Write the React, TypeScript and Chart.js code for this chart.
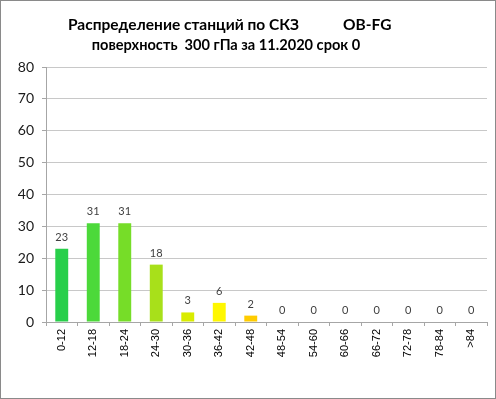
import React, { useEffect, useRef } from "react";
import { Chart, registerables } from "chart.js";

Chart.register(...registerables);

const categories = ["0-12", "12-18", "18-24", "24-30", "30-36", "36-42", "42-48", "48-54", "54-60", "60-66", "66-72", "72-78", "78-84", ">84"];
const stationCounts = [23, 31, 31, 18, 3, 6, 2, 0, 0, 0, 0, 0, 0, 0];
const barColors = ["#28CF4A", "#4CD93A", "#76DD28", "#A8E01A", "#D9EC00", "#FFF700", "#FFCC00", "#FFCC00", "#FFCC00", "#FFCC00", "#FFCC00", "#FFCC00", "#FFCC00", "#FFCC00"];
const yTicksMax = 80;
const yStep = 10;
const titleLine1 = "Распределение станций по СКЗ";
const titleTag = "OB-FG";
const titleLine2 = "поверхность  300 гПа за 11.2020 срок 0";

const valueLabels = {
  id: "valueLabels",
  afterDatasetsDraw(chart: any) {
    const ctx = chart.ctx;
    const meta = chart.getDatasetMeta(0);
    ctx.save();
    ctx.font = "11px Lato";
    ctx.fillStyle = "#404040";
    ctx.textAlign = "center";
    ctx.textBaseline = "alphabetic";
    meta.data.forEach((el: any, i: number) => {
      ctx.fillText(String(stationCounts[i]), el.x, el.y - 8);
    });
    ctx.restore();
  },
};

const titleDraw = {
  id: "titleDraw",
  afterDraw(chart: any) {
    const ctx = chart.ctx;
    ctx.save();
    ctx.font = "bold 15.5px Lato";
    ctx.fillStyle = "#000";
    ctx.textBaseline = "alphabetic";
    ctx.textAlign = "left";
    ctx.fillText(titleLine1, 67, 29);
    ctx.fillText(titleTag, 342, 29);
    ctx.font = "bold 14.6px Lato";
    ctx.textAlign = "center";
    ctx.fillText(titleLine2, 225, 49);
    ctx.restore();
  },
};

export default function App() {
  const ref = useRef<HTMLCanvasElement>(null);
  useEffect(() => {
    document.body.style.margin = "0";
    const chart = new Chart(ref.current!, {
      type: "bar",
      data: {
        labels: categories,
        datasets: [
          {
            data: stationCounts,
            backgroundColor: barColors,
            barPercentage: 0.41,
            categoryPercentage: 1,
          },
        ],
      },
      options: {
        animation: false,
        responsive: false,
        maintainAspectRatio: false,
        layout: { padding: { top: 66, left: 0, right: 8, bottom: 0 } },
        plugins: { legend: { display: false }, title: { display: false }, tooltip: { enabled: false } },
        scales: {
          x: {
            afterFit: (s: any) => { s.height = 76; },
            grid: { display: true, drawOnChartArea: false, drawTicks: true, tickLength: 4, color: "#a6a6a6", offset: true },
            border: { color: "#a6a6a6" },
            ticks: { minRotation: 90, maxRotation: 90, autoSkip: false, color: "#000", font: { family: "Liberation Sans, Arial", size: 11 }, padding: 3 },
          },
          y: {
            min: 0,
            max: yTicksMax,
            afterFit: (s: any) => { s.width = 45; },
            grid: { color: "#c8c8c8", lineWidth: 1, tickLength: 4, tickColor: "#a6a6a6" },
            border: { color: "#a6a6a6" },
            ticks: { stepSize: yStep, color: "#1a1a1a", font: { family: "Lato", size: 14 }, padding: 8 },
          },
        },
      },
      plugins: [valueLabels, titleDraw],
    });
    return () => chart.destroy();
  }, []);
  return (
    <div style={{ width: 496, height: 399, boxSizing: "border-box", border: "1px solid #8a8a8a", background: "#fff" }}>
      <canvas ref={ref} width={494} height={397} style={{ display: "block" }} />
    </div>
  );
}
